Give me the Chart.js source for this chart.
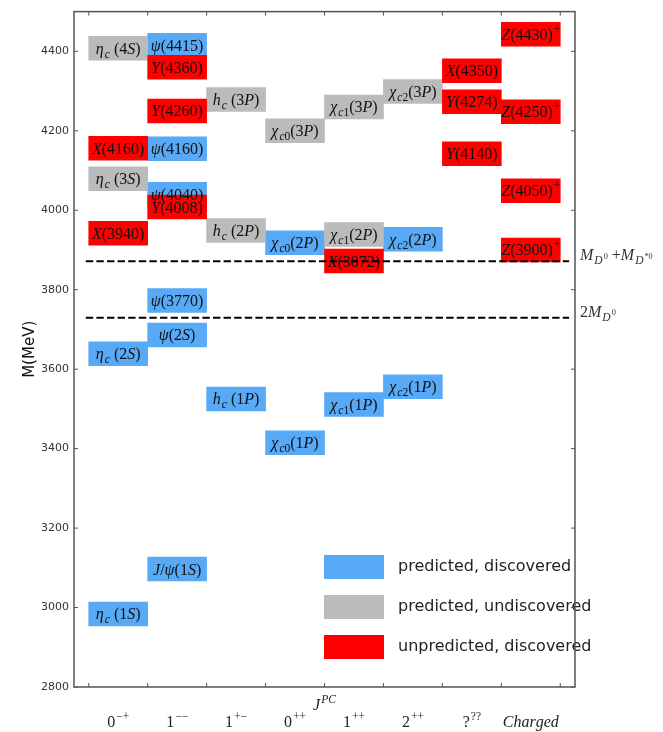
<!DOCTYPE html>
<html>
<head>
<meta charset="utf-8">
<script src="https://cdn.jsdelivr.net/npm/chart.js@4.4.1/dist/chart.umd.min.js"></script>
<style>
  html, body { margin: 0; padding: 0; background: #fff; }
</style>
</head>
<body>
<canvas id="spectrum" width="663" height="732"></canvas>
<script>
// J^PC columns (x axis)
const columns = ['0^{−+}', '1^{−−}', '1^{+−}', '0^{++}', '1^{++}', '2^{++}', '?^{??}', 'Charged'];

// charmonium-like states: name, column, mass (MeV), kind
const stateNames = [
  'η_c (1S)', 'η_c (2S)', 'η_c (3S)', 'η_c (4S)', 'X(3940)', 'X(4160)',
  'J/ψ(1S)', 'ψ(2S)', 'ψ(3770)', 'ψ(4040)', 'Y(4008)', 'ψ(4160)', 'Y(4260)', 'ψ(4415)', 'Y(4360)',
  'h_c (1P)', 'h_c (2P)', 'h_c (3P)',
  'χ_{c0}(1P)', 'χ_{c0}(2P)', 'χ_{c0}(3P)',
  'χ_{c1}(1P)', 'χ_{c1}(2P)', 'X(3872)', 'χ_{c1}(3P)',
  'χ_{c2}(1P)', 'χ_{c2}(2P)', 'χ_{c2}(3P)',
  'Y(4140)', 'Y(4274)', 'X(4350)',
  'Z(3900)^+', 'Z(4050)^+', 'Z(4250)^+', 'Z(4430)^+'
];
const stateColumns = [0, 0, 0, 0, 0, 0, 1, 1, 1, 1, 1, 1, 1, 1, 1, 2, 2, 2, 3, 3, 3, 4, 4, 4, 4, 5, 5, 5, 6, 6, 6, 7, 7, 7, 7];
const stateMasses = [2984, 3639, 4079, 4408, 3942, 4156,
  3097, 3686, 3773, 4040, 4008, 4155, 4250, 4415, 4360,
  3525, 3949, 4279,
  3415, 3918, 4200,
  3511, 3939, 3872, 4260,
  3556, 3927, 4299,
  4142, 4273, 4351,
  3900, 4049, 4248, 4443];
// 0 = predicted & discovered, 1 = predicted & undiscovered, 2 = unpredicted & discovered
const stateKinds = [0, 0, 1, 1, 2, 2, 0, 0, 0, 0, 2, 0, 2, 0, 2, 0, 1, 1, 0, 0, 1, 0, 1, 2, 1, 0, 0, 1, 2, 2, 2, 2, 2, 2, 2];

const kindLabels = ['predicted, discovered', 'predicted, undiscovered', 'unpredicted, discovered'];
const kindColors = ['#58aaf7', '#bbbbbb', '#ff0000'];

// open-charm thresholds
const thresholdMasses = [3871.7, 3729.7];
const thresholdLabels = ['M_{D^0} +M_{D^{*0}}', '2M_{D^0}'];

const boxHalf = 30; // half height of a level box, MeV

// tiny mathtext-like renderer: _x / ^x / _{..} / ^{..}, letters italic
function mathText(ctx, str, x, y, size, draw) {
  let i = 0, cx = x;
  const group = () => {
    if (str[i] !== '{') return str[i++];
    let depth = 0, j = i;
    do {
      if (str[j] === '{') depth++;
      else if (str[j] === '}') depth--;
      j++;
    } while (depth > 0 && j < str.length);
    const g = str.slice(i + 1, j - 1);
    i = j;
    return g;
  };
  while (i < str.length) {
    const c = str[i];
    if (c === '_' || c === '^') {
      i++;
      const g = group();
      const shift = c === '_' ? size * 0.25 : -size * 0.45;
      cx += mathText(ctx, g, cx + 1, y + shift, size * 0.72, draw) + 1;
      continue;
    }
    i++;
    const italic = /[A-Za-z\u0370-\u03FF]/.test(c);
    ctx.font = (italic ? 'italic ' : '') + size + 'px "Liberation Serif"';
    if (draw) ctx.fillText(c, cx, y);
    cx += ctx.measureText(c).width;
  }
  return cx - x;
}
function centerMath(ctx, str, x, y, size) {
  const w = mathText(ctx, str, 0, 0, size, false);
  mathText(ctx, str, x - w / 2, y, size, true);
}

const datasets = kindLabels.map((label, k) => {
  const idx = stateNames.map((_, i) => i).filter(i => stateKinds[i] === k);
  return {
    label: label,
    backgroundColor: kindColors[k],
    borderWidth: 0,
    grouped: false,
    categoryPercentage: 1,
    barPercentage: 1,
    order: 3 - k,
    names: idx.map(i => stateNames[i]),
    data: idx.map(i => ({
      x: stateColumns[i] + 0.5,
      y: [stateMasses[i] - boxHalf, stateMasses[i] + boxHalf]
    }))
  };
});

const decorations = {
  id: 'decorations',
  afterDatasetsDraw(chart) {
    const ctx = chart.ctx;
    const area = chart.chartArea;
    const xs = chart.scales.x, ys = chart.scales.y;
    ctx.save();
    ctx.textAlign = 'left';
    ctx.textBaseline = 'alphabetic';

    // names inside the boxes
    ctx.fillStyle = '#111';
    chart.data.datasets.forEach((ds, d) => {
      chart.getDatasetMeta(d).data.forEach((el, j) => {
        const cy = (el.y + el.base) / 2;
        centerMath(ctx, ds.names[j], el.x, cy + 5.5, 16);
      });
    });

    // threshold lines
    ctx.strokeStyle = '#000';
    ctx.lineWidth = 2;
    ctx.setLineDash([7.4, 3.2]);
    thresholdMasses.forEach(m => {
      const py = ys.getPixelForValue(m);
      ctx.beginPath();
      ctx.moveTo(xs.getPixelForValue(-0.05), py);
      ctx.lineTo(xs.getPixelForValue(8.15), py);
      ctx.stroke();
    });
    ctx.setLineDash([]);

    // legend
    kindLabels.forEach((label, k) => {
      const bx = area.left + 250, by = area.bottom - 132 + k * 40;
      ctx.fillStyle = kindColors[k];
      ctx.fillRect(bx, by, 60, 24);
      ctx.fillStyle = '#222';
      ctx.font = '16px "DejaVu Sans"';
      ctx.textBaseline = 'middle';
      ctx.fillText(label, bx + 74, by + 12);
      ctx.textBaseline = 'alphabetic';
    });

    // frame and inward ticks
    ctx.strokeStyle = '#555';
    ctx.lineWidth = 1.5;
    ctx.strokeRect(area.left, area.top, area.right - area.left, area.bottom - area.top);
    ctx.lineWidth = 1;
    xs.ticks.forEach(t => {
      const px = xs.getPixelForValue(t.value);
      ctx.beginPath();
      ctx.moveTo(px, area.bottom); ctx.lineTo(px, area.bottom - 4);
      ctx.moveTo(px, area.top); ctx.lineTo(px, area.top + 4);
      ctx.stroke();
    });
    ys.ticks.forEach(t => {
      const py = ys.getPixelForValue(t.value);
      ctx.beginPath();
      ctx.moveTo(area.left, py); ctx.lineTo(area.left + 4, py);
      ctx.moveTo(area.right, py); ctx.lineTo(area.right - 4, py);
      ctx.stroke();
    });

    // threshold labels on the right
    ctx.fillStyle = '#333';
    thresholdMasses.forEach((m, t) => {
      mathText(ctx, thresholdLabels[t], area.right + 5, ys.getPixelForValue(m) - 1, 16, true);
    });

    // x category labels and axis title
    ctx.fillStyle = '#222';
    columns.forEach((c, i) => {
      centerMath(ctx, c, xs.getPixelForValue(i + 0.5), area.bottom + 40, 16);
    });
    centerMath(ctx, 'J^{PC}', (area.left + area.right) / 2, area.bottom + 23, 16);
    ctx.restore();
  }
};

Chart.defaults.font.family = '"DejaVu Sans"';

new Chart(document.getElementById('spectrum'), {
  type: 'bar',
  data: { datasets: datasets },
  options: {
    responsive: false,
    animation: false,
    layout: { padding: { top: 6, right: 88, bottom: 0, left: 0 } },
    scales: {
      x: {
        type: 'linear',
        min: -0.25,
        max: 8.25,
        offset: false,
        grid: { display: false, drawTicks: false },
        border: { display: false },
        ticks: { display: false, stepSize: 1, includeBounds: false },
        afterFit: s => { s.height = 45; }
      },
      y: {
        min: 2800,
        max: 4500,
        grid: { display: false, drawTicks: false, tickLength: 0 },
        border: { display: false },
        ticks: {
          stepSize: 200,
          includeBounds: false,
          padding: 5,
          color: '#333',
          font: { size: 11 },
          callback: v => String(v)
        },
        title: { display: true, text: 'M(MeV)', color: '#111', font: { size: 15 }, padding: { top: 21, bottom: 0 } },
        afterFit: s => { s.width = 74; }
      }
    },
    plugins: {
      legend: { display: false },
      tooltip: { enabled: false }
    }
  },
  plugins: [decorations]
});
</script>
</body>
</html>
